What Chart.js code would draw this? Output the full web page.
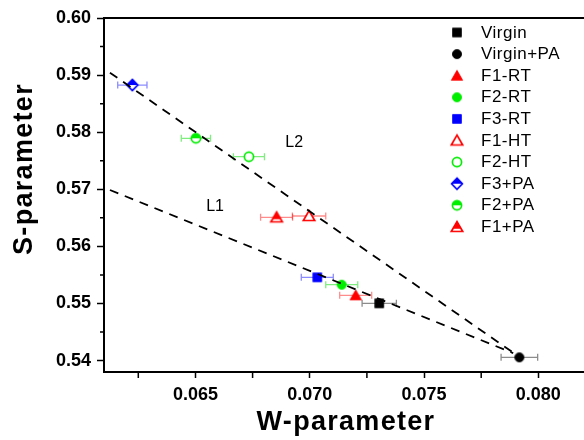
<!DOCTYPE html>
<html><head><meta charset="utf-8">
<script src="https://cdn.jsdelivr.net/npm/chart.js@4/dist/chart.umd.min.js"></script>
<style>html,body{margin:0;padding:0;overflow:hidden;background:#fff;width:584px;height:440px}canvas{display:block}</style>
</head><body>
<canvas id="c" width="620" height="440"></canvas>
<script>
// ---- data ----
const seriesNames = ['Virgin','Virgin+PA','F1-RT','F2-RT','F3-RT','F1-HT','F2-HT','F3+PA','F2+PA','F1+PA'];
const wValues = [0.07304, 0.07917, 0.07201, 0.07140, 0.07033, 0.06997, 0.06734, 0.06224, 0.06502, 0.06855];
const sValues = [0.55003, 0.54057, 0.55143, 0.55329, 0.55458, 0.56532, 0.57571, 0.58826, 0.57893, 0.56509];
const wErrors = [0.00075, 0.00080, 0.00070, 0.00070, 0.00070, 0.00073, 0.00068, 0.00064, 0.00064, 0.00070];
const seriesColors = ['#000000','#000000','#ff0000','#00ee00','#0000ff','#ff0000','#00ee00','#0000ff','#00ee00','#ff0000'];
const errorColors = ['rgba(0,0,0,0.45)','rgba(0,0,0,0.45)','rgba(255,0,0,0.45)','rgba(0,220,0,0.5)','rgba(0,0,255,0.45)','rgba(255,0,0,0.45)','rgba(0,220,0,0.5)','rgba(0,0,255,0.45)','rgba(0,220,0,0.5)','rgba(255,0,0,0.45)'];
const seriesShapes = ['square','circle','triangle','circle','square','triangle','circle','diamond','circle','triangle'];
const seriesFills = ['full','full','full','full','full','open','open','half','half','half'];

const lineNames = ['L1','L2'];
const l1W = [0.06126, 0.07890];
const l1S = [0.56987, 0.54130];
const l2W = [0.06126, 0.07890];
const l2S = [0.59042, 0.54140];
const lineLabelW = [0.06586, 0.06932];
const lineLabelS = [0.56695, 0.57816];

const xMajorTicks = [0.065, 0.070, 0.075, 0.080];
const xMinorTicks = [0.0625, 0.0675, 0.0725, 0.0775];
const xTickLabels = ['0.065','0.070','0.075','0.080'];
const yMajorTicks = [0.54, 0.55, 0.56, 0.57, 0.58, 0.59, 0.60];
const yMinorTicks = [0.545, 0.555, 0.565, 0.575, 0.585, 0.595];
const yTickLabels = ['0.54','0.55','0.56','0.57','0.58','0.59','0.60'];
const xTitle = 'W-parameter';
const yTitle = 'S-parameter';

// ---- markers ----
function makeMarker(shape, color, fill){
  const S = 16, m = S/2;
  const c = document.createElement('canvas'); c.width = S; c.height = S;
  const g = c.getContext('2d');
  function path(){
    g.beginPath();
    if (shape === 'square') g.rect(m-4.4, m-4.4, 8.8, 8.8);
    else if (shape === 'circle') g.arc(m, m, 4.6, 0, 2*Math.PI);
    else if (shape === 'triangle') { g.moveTo(m, m-5.4); g.lineTo(m+5.7, m+4.5); g.lineTo(m-5.7, m+4.5); g.closePath(); }
    else { g.moveTo(m, m-5.6); g.lineTo(m+5.4, m); g.lineTo(m, m+5.6); g.lineTo(m-5.4, m); g.closePath(); }
  }
  if (fill === 'full') {
    path(); g.fillStyle = color; g.fill();
    g.lineWidth = 0.8; g.strokeStyle = color; g.stroke();
  } else {
    path(); g.fillStyle = '#fff'; g.fill();
    if (fill === 'half') {
      g.save(); path(); g.clip(); g.fillStyle = color;
      g.fillRect(0, 0, S, shape === 'triangle' ? m + 1.8 : m); g.restore();
    }
    path(); g.lineWidth = 1.7; g.strokeStyle = color; g.stroke();
  }
  return c;
}

const FONT = "'Liberation Sans', Arial, sans-serif";

const pointSets = seriesNames.map((name, i) => ({
  type: 'scatter',
  label: name,
  data: [{x: wValues[i], y: sValues[i]}],
  errW: [wErrors[i]],
  errColor: errorColors[i],
  pointStyle: makeMarker(seriesShapes[i], seriesColors[i], seriesFills[i]),
  pointRadius: 6,
  pointHoverRadius: 6,
  order: 1
}));
const lineSets = [[l1W, l1S], [l2W, l2S]].map((arr, k) => ({
  type: 'line',
  label: lineNames[k],
  data: arr[0].map((w, j) => ({x: w, y: arr[1][j]})),
  borderColor: '#000',
  borderWidth: 1.8,
  borderDash: [9, 7],
  pointRadius: 0,
  fill: false,
  tension: 0,
  order: 0
}));

const extras = {
  id: 'extras',
  beforeDatasetsDraw(chart){
    const {ctx, scales: {x, y}} = chart;
    chart.data.datasets.forEach(ds => {
      if (!ds.errW) return;
      ds.data.forEach((p, j) => {
        const e = ds.errW[j];
        const xl = x.getPixelForValue(p.x - e), xr = x.getPixelForValue(p.x + e), py = y.getPixelForValue(p.y);
        ctx.save(); ctx.strokeStyle = ds.errColor; ctx.lineWidth = 1.3;
        ctx.beginPath();
        ctx.moveTo(xl, py); ctx.lineTo(xr, py);
        ctx.moveTo(xl, py-3.5); ctx.lineTo(xl, py+3.5);
        ctx.moveTo(xr, py-3.5); ctx.lineTo(xr, py+3.5);
        ctx.stroke(); ctx.restore();
      });
    });
  },
  afterDraw(chart){
    const {ctx, chartArea: a, scales: {x, y}} = chart;
    ctx.save();
    // top frame line
    ctx.strokeStyle = '#000'; ctx.lineWidth = 2;
    ctx.beginPath(); ctx.moveTo(a.left - 1, a.top); ctx.lineTo(a.right, a.top); ctx.stroke();
    ctx.beginPath(); ctx.moveTo(a.right, a.top); ctx.lineTo(a.right, a.bottom); ctx.stroke();
    // minor ticks
    ctx.lineWidth = 1.5;
    ctx.beginPath();
    xMinorTicks.forEach(v => { const px = x.getPixelForValue(v); ctx.moveTo(px, a.bottom); ctx.lineTo(px, a.bottom + 6); });
    yMinorTicks.forEach(v => { const py = y.getPixelForValue(v); ctx.moveTo(a.left - 4, py); ctx.lineTo(a.left, py); });
    ctx.stroke();
    // axis titles
    ctx.fillStyle = '#000';
    ctx.font = 'bold 27px ' + FONT;
    try { ctx.letterSpacing = '1.3px'; } catch(e) {}
    ctx.textAlign = 'center'; ctx.textBaseline = 'alphabetic';
    ctx.fillText(xTitle, 346, 430);
    ctx.save(); ctx.translate(32, 169); ctx.rotate(-Math.PI/2); ctx.fillText(yTitle, 0, 0); ctx.restore();
    try { ctx.letterSpacing = '0px'; } catch(e) {}
    // line labels
    ctx.font = '16px ' + FONT; ctx.textBaseline = 'middle';
    lineNames.forEach((n, k) => ctx.fillText(n, x.getPixelForValue(lineLabelW[k]), y.getPixelForValue(lineLabelS[k])));
    // legend
    ctx.textAlign = 'left'; ctx.font = '17px ' + FONT;
    try { ctx.letterSpacing = '0.5px'; } catch(e) {}
    pointSets.forEach((ds, i) => {
      const ly = 32.5 + i * 21.6;
      const img = ds.pointStyle;
      ctx.drawImage(img, 457 - img.width/2, ly - img.height/2);
      ctx.fillText(ds.label, 481, ly + 0.5);
    });
    try { ctx.letterSpacing = '0px'; } catch(e) {}
    ctx.restore();
  }
};

new Chart(document.getElementById('c'), {
  type: 'scatter',
  data: { datasets: [...lineSets, ...pointSets] },
  options: {
    responsive: false,
    animation: false,
    events: [],
    layout: { padding: { top: 18, right: 24.5, left: 0, bottom: 0 } },
    plugins: { legend: { display: false }, tooltip: { enabled: false } },
    scales: {
      x: {
        type: 'linear', min: 0.061, max: 0.0825,
        afterBuildTicks: s => { s.ticks = xMajorTicks.map(v => ({value: v})); },
        afterFit: s => { s.height = 68; },
        ticks: { callback: (v, i) => xTickLabels[i], color: '#000', font: {family: FONT, size: 18, weight: 'bold'}, padding: 6, maxRotation: 0, autoSkip: false },
        grid: { drawOnChartArea: false, drawTicks: true, tickLength: 6, tickWidth: 1.5, tickColor: '#000' },
        border: { display: true, color: '#000', width: 2 }
      },
      y: {
        type: 'linear', min: 0.538, max: 0.60,
        afterBuildTicks: s => { s.ticks = yMajorTicks.map(v => ({value: v})); },
        afterFit: s => { s.width = 104; },
        ticks: { callback: (v, i) => yTickLabels[i], color: '#000', font: {family: FONT, size: 18, weight: 'bold'}, padding: 6, autoSkip: false },
        grid: { drawOnChartArea: false, drawTicks: true, tickLength: 7, tickWidth: 1.5, tickColor: '#000' },
        border: { display: true, color: '#000', width: 2 }
      }
    }
  },
  plugins: [extras]
});
</script>
</body></html>
